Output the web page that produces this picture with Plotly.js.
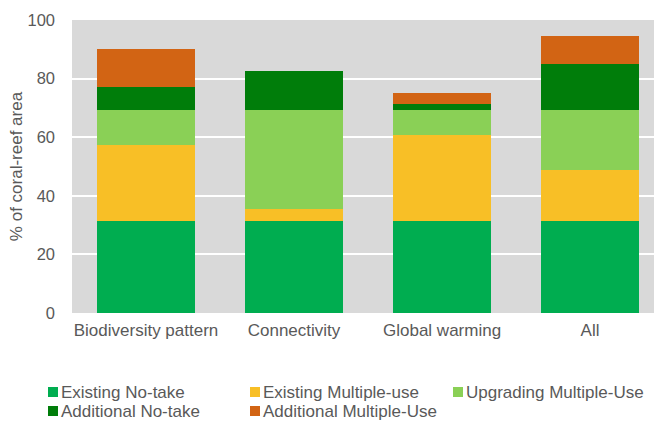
<!DOCTYPE html>
<html><head><meta charset="utf-8">
<script src="https://cdn.plot.ly/plotly-3.0.1.min.js"></script>
<style>html,body{margin:0;padding:0;background:#fff;overflow:hidden}</style>
</head><body>
<div id="chart" style="width:654px;height:421px"></div>
<script>
const categories = ["Biodiversity pattern", "Connectivity", "Global warming", "All"];
const existingNoTake = [31.4, 31.4, 31.4, 31.4];
const existingMultipleUse = [26.0, 4.1, 29.3, 17.5];
const upgradingMultipleUse = [11.8, 33.7, 8.5, 20.3];
const additionalNoTake = [8.1, 13.5, 2.2, 15.8];
const additionalMultipleUse = [12.8, 0, 3.7, 9.7];
const seriesNames = ["Existing No-take", "Existing Multiple-use", "Upgrading Multiple-Use", "Additional No-take", "Additional Multiple-Use"];
const seriesColors = ["#00ad50", "#f8bf26", "#8ad056", "#007d0a", "#d26414"];
const seriesValues = [existingNoTake, existingMultipleUse, upgradingMultipleUse, additionalNoTake, additionalMultipleUse];
const yTicks = [0, 20, 40, 60, 80, 100];

const W = 654, H = 421, M = {l: 72, r: 0, t: 20, b: 108};
const pw = W - M.l - M.r, ph = H - M.t - M.b;
const px = x => (x - M.l) / pw;
const py = y => (H - M.b - y) / ph;

const traces = seriesValues.map((vals, i) => ({
  type: "bar", x: categories, y: vals, name: seriesNames[i],
  marker: {color: seriesColors[i], line: {width: 0}}, hoverinfo: "skip"
}));

// legend laid out as in the reference: 3 columns, 2 rows
const legendCols = [48, 250, 453];
const legendRows = [392, 411];
const shapes = [], annotations = [];
seriesNames.forEach((name, i) => {
  const cx = legendCols[i % 3], cy = legendRows[Math.floor(i / 3)];
  shapes.push({type: "rect", xref: "paper", yref: "paper", x0: px(cx), x1: px(cx + 10), y0: py(cy + 5), y1: py(cy - 5),
    fillcolor: seriesColors[i], line: {width: 0}});
  annotations.push({xref: "paper", yref: "paper", x: px(cx + 13), y: py(cy), xanchor: "left", yanchor: "middle",
    text: name, showarrow: false, borderpad: 0, borderwidth: 0, font: {size: 17, color: "#595959"}});
});

const layout = {
  width: W, height: H, margin: M,
  paper_bgcolor: "#ffffff", plot_bgcolor: "#d9d9d9",
  barmode: "stack", bargap: 0.333,
  font: {family: "Liberation Sans, Arial, sans-serif", size: 17, color: "#595959"},
  xaxis: {range: [-0.5, 3.432], showgrid: false, zeroline: false, showline: false, ticks: "", ticklabelstandoff: 5, tickfont: {size: 17, color: "#595959"}, fixedrange: true},
  yaxis: {range: [0, 100], tickvals: yTicks, showgrid: true, gridcolor: "#ffffff", gridwidth: 2, zeroline: false, showline: false, ticks: "", ticklabelstandoff: 16, tickfont: {size: 16.5, color: "#595959"},
    title: {text: "% of coral-reef area", font: {size: 17, color: "#595959"}, standoff: 0}},
  showlegend: false,
  shapes: shapes, annotations: annotations
};
Plotly.newPlot("chart", traces, layout, {displayModeBar: false, staticPlot: true});
</script>
</body></html>
